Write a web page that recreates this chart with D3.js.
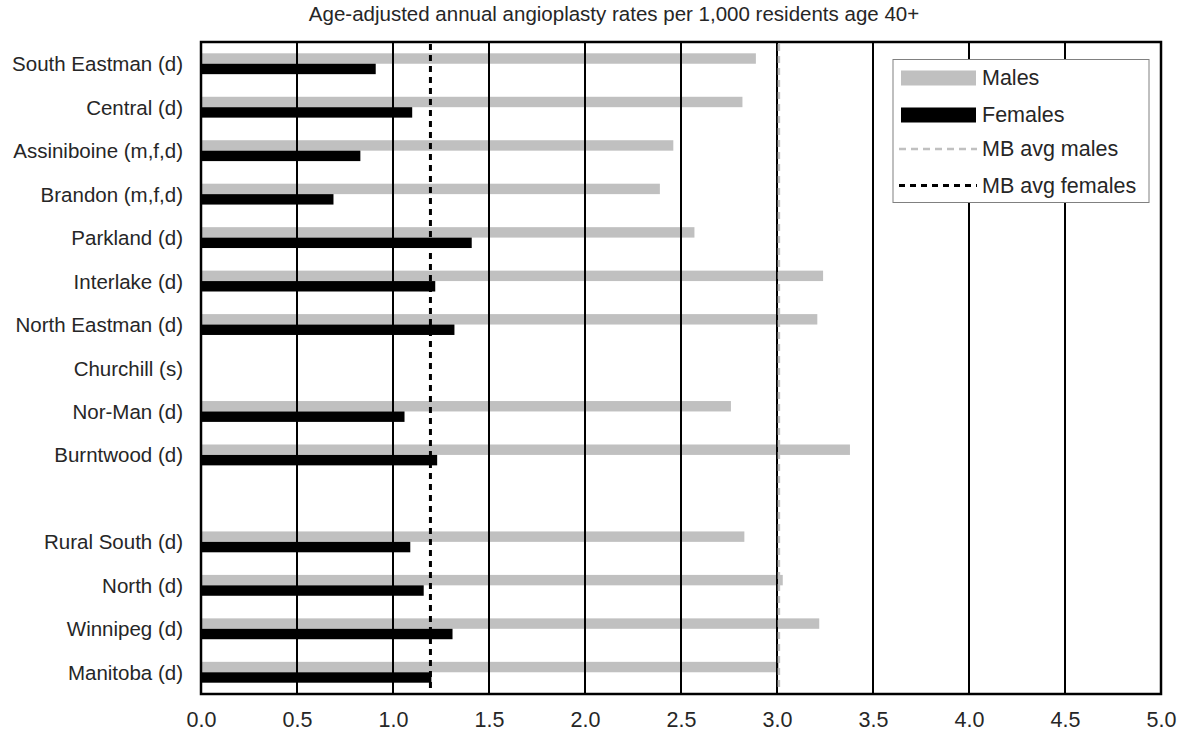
<!DOCTYPE html>
<html>
<head>
<meta charset="utf-8">
<script src="https://cdn.jsdelivr.net/npm/d3@7"></script>
<style>
  html, body { margin: 0; padding: 0; background: #fff; }
  svg { display: block; font-family: "Liberation Sans", Arial, sans-serif; }
</style>
</head>
<body>
<svg id="chart" width="1188" height="744"></svg>
<script>
// ---- data ----
const title = "Age-adjusted annual angioplasty rates per 1,000 residents age 40+";
const categories = ["South Eastman (d)", "Central (d)", "Assiniboine (m,f,d)", "Brandon (m,f,d)",
  "Parkland (d)", "Interlake (d)", "North Eastman (d)", "Churchill (s)", "Nor-Man (d)",
  "Burntwood (d)", "", "Rural South (d)", "North (d)", "Winnipeg (d)", "Manitoba (d)"];
const males =   [2.89, 2.82, 2.46, 2.39, 2.57, 3.24, 3.21, null, 2.76, 3.38, null, 2.83, 3.03, 3.22, 3.01];
const females = [0.91, 1.10, 0.83, 0.69, 1.41, 1.22, 1.32, null, 1.06, 1.23, null, 1.09, 1.16, 1.31, 1.20];
const avgMales = 3.01;
const avgFemales = 1.195;
const xTicks = [0, 0.5, 1, 1.5, 2, 2.5, 3, 3.5, 4, 4.5, 5];
const legendLabels = ["Males", "Females", "MB avg males", "MB avg females"];

// ---- layout ----
const svg = d3.select("#chart");
const L = 201, R = 1161, T = 42, B = 694;
const grey = "#c0c0c0";
const ink = "#262626";

const keys = categories.map((c, i) => i);
const x = d3.scaleLinear().domain([0, 5]).range([L, R]);
const y = d3.scaleBand().domain(keys).range([T, B]).paddingInner(0.52).paddingOuter(0.26);
const sub = d3.scaleBand().domain(["m", "f"]).range([0, y.bandwidth()]);

// title
svg.append("text").attr("x", 614).attr("y", 21).attr("text-anchor", "middle")
  .attr("font-size", 20.5).attr("fill", ink).text(title);

// bars
const rows = keys.map(i => ({ i, m: males[i], f: females[i] }));
const g = svg.append("g");
g.selectAll("rect.m").data(rows.filter(d => d.m != null)).join("rect")
  .attr("x", x(0)).attr("y", d => y(d.i) + sub("m"))
  .attr("width", d => x(d.m) - x(0)).attr("height", sub.bandwidth())
  .attr("fill", grey);
g.selectAll("rect.f").data(rows.filter(d => d.f != null)).join("rect")
  .attr("x", x(0)).attr("y", d => y(d.i) + sub("f"))
  .attr("width", d => x(d.f) - x(0)).attr("height", sub.bandwidth())
  .attr("fill", "#000");

// gridlines
svg.append("g").selectAll("line").data(xTicks.filter(t => t > 0 && t < 5)).join("line")
  .attr("x1", d => x(d)).attr("x2", d => x(d)).attr("y1", T).attr("y2", B)
  .attr("stroke", "#000").attr("stroke-width", 2);

// average lines
svg.append("line").attr("x1", x(avgMales)).attr("x2", x(avgMales)).attr("y1", T + 2).attr("y2", B - 2)
  .attr("stroke", grey).attr("stroke-width", 2.5).attr("stroke-dasharray", "7,5");
svg.append("line").attr("x1", x(avgFemales)).attr("x2", x(avgFemales)).attr("y1", T + 2).attr("y2", B - 2)
  .attr("stroke", "#000").attr("stroke-width", 3).attr("stroke-dasharray", "6,5");

// frame
svg.append("rect").attr("x", L).attr("y", T).attr("width", R - L).attr("height", B - T)
  .attr("fill", "none").attr("stroke", "#000").attr("stroke-width", 2.5);

// y labels
svg.append("g").selectAll("text").data(keys).join("text")
  .attr("x", 183).attr("y", d => y(d) + y.bandwidth() / 2)
  .attr("text-anchor", "end").attr("dominant-baseline", "central")
  .attr("font-size", 20.5).attr("fill", ink).text(d => categories[d]);

// x axis labels
const xAxis = d3.axisBottom(x).tickValues(xTicks).tickFormat(d3.format(".1f")).tickSize(0).tickPadding(0);
const ax = svg.append("g").attr("transform", `translate(0, ${B})`).call(xAxis);
ax.select(".domain").remove();
ax.selectAll("text").attr("font-size", 21.5).attr("fill", ink)
  .attr("font-family", '"Liberation Sans", Arial, sans-serif')
  .attr("dy", null).attr("y", 33);

// legend
const lg = svg.append("g");
lg.append("rect").attr("x", 893).attr("y", 59.5).attr("width", 256).attr("height", 143)
  .attr("fill", "#fff").attr("stroke", "#808080").attr("stroke-width", 1);
const rowY = [78, 115, 149, 185.5];
lg.append("rect").attr("x", 901).attr("y", rowY[0] - 7.5).attr("width", 75).attr("height", 15).attr("fill", grey);
lg.append("rect").attr("x", 901).attr("y", rowY[1] - 7.5).attr("width", 75).attr("height", 15).attr("fill", "#000");
lg.append("line").attr("x1", 899).attr("x2", 977).attr("y1", rowY[2]).attr("y2", rowY[2])
  .attr("stroke", grey).attr("stroke-width", 2.5).attr("stroke-dasharray", "7,5");
lg.append("line").attr("x1", 899).attr("x2", 977).attr("y1", rowY[3]).attr("y2", rowY[3])
  .attr("stroke", "#000").attr("stroke-width", 3).attr("stroke-dasharray", "6,5");
lg.selectAll("text").data(legendLabels).join("text")
  .attr("x", 982).attr("y", (d, i) => rowY[i])
  .attr("dominant-baseline", "central").attr("font-size", 21.5).attr("fill", ink)
  .text(d => d);
</script>
</body>
</html>
